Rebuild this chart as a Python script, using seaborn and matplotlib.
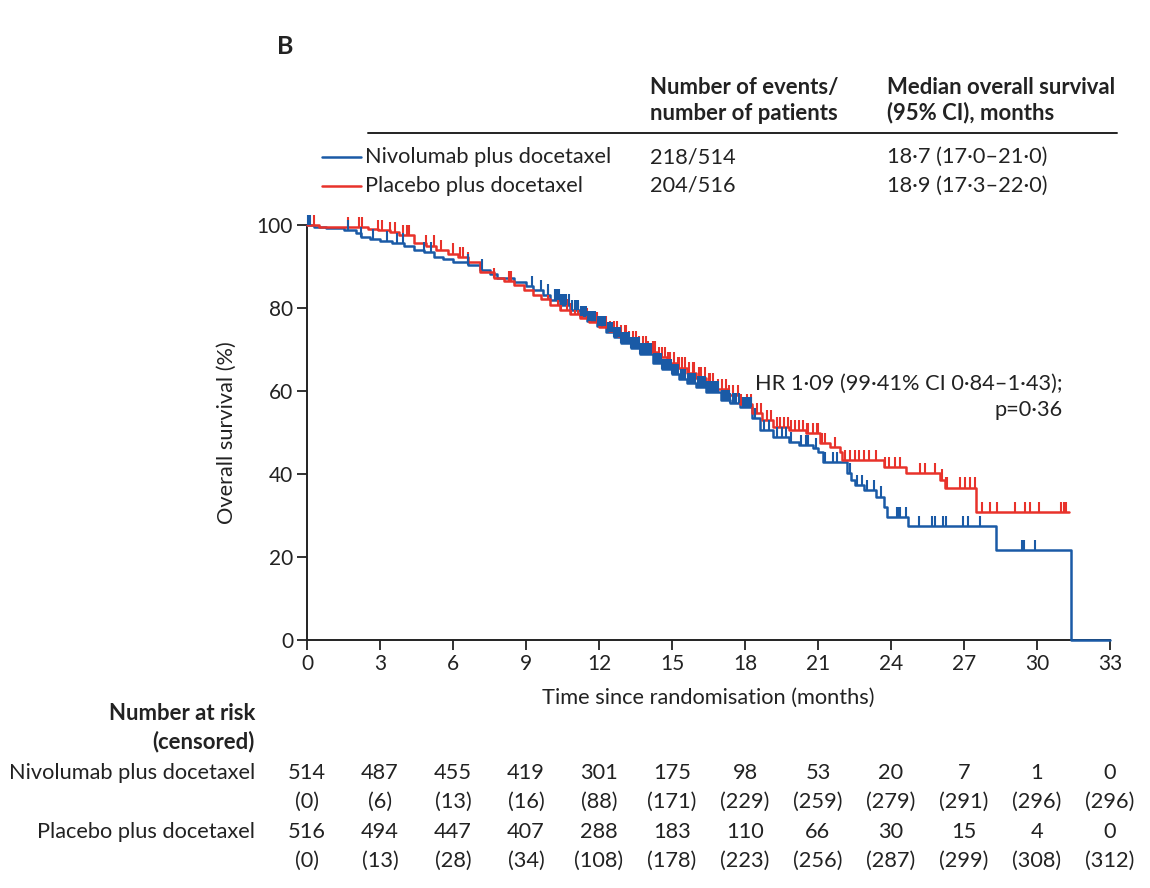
import numpy as np
import pandas as pd
import matplotlib
matplotlib.use("Agg")
import matplotlib.pyplot as plt
from matplotlib.lines import Line2D
import seaborn as sns

# ---------------- data ----------------
arm_names = ["Nivolumab plus docetaxel", "Placebo plus docetaxel"]
events_patients = ["218/514", "204/516"]
median_os = ["18·7 (17·0–21·0)", "18·9 (17·3–22·0)"]

nivo_times = [0, 0.3, 0.8, 1.5, 2.0, 2.2, 2.6, 3.0, 3.5, 4.0, 4.4, 4.8, 5.2, 5.6, 6.0, 6.6,
              7.1, 7.5, 7.8, 8.5, 9.0, 9.3, 9.7, 10.0, 10.4, 10.8, 11.2, 11.5, 11.9, 12.3,
              12.6, 12.9, 13.3, 13.7, 14.2, 14.6, 15.0, 15.3, 15.6, 16.0, 16.4, 17.0, 17.4,
              17.8, 18.3, 18.6, 19.15, 19.8, 20.2, 20.8, 21.0, 21.2, 22.2, 22.35, 22.5, 22.9,
              23.4, 23.7, 23.85, 24.7, 28.3, 31.4, 33.0]
nivo_surv = [100, 99.6, 99.2, 98.8, 98.0, 97.1, 96.6, 96.1, 95.6, 95.0, 94.0, 93.4, 92.3, 91.8,
             91.2, 90.4, 89.2, 88.2, 87.2, 86.3, 85.3, 84.3, 83.2, 82.0, 80.8, 79.5, 78.0, 76.8,
             75.6, 74.2, 73.0, 71.6, 70.4, 69.0, 66.7, 65.2, 64.0, 62.8, 61.9, 61.0, 59.8, 57.8,
             57.0, 56.1, 53.5, 50.5, 48.9, 47.7, 47.0, 46.2, 45.3, 42.9, 40.2, 38.6, 37.3, 36.1,
             34.5, 32.0, 29.6, 27.5, 21.7, 0, 0]
nivo_censor = [0.05, 0.12, 1.7, 2.2, 2.7, 3.3, 3.7, 3.95, 4.8, 5.1, 6.6, 7.2, 9.25, 9.6, 9.9,
               10.2, 10.25, 10.3, 10.35, 10.45, 10.5, 10.55, 10.6, 10.65, 10.75, 10.9, 11.0,
               11.05, 11.1, 11.15, 11.25, 11.3, 11.35, 11.4, 11.45, 11.55, 11.65, 11.7, 11.75,
               11.8, 11.85, 11.95, 12.0, 12.05, 12.1, 12.15, 12.2, 12.25, 12.35, 12.4, 12.45,
               12.5, 12.55, 12.6, 12.65, 12.7, 12.75, 12.8, 12.85, 12.9, 12.95, 13.0, 13.05,
               13.1, 13.15, 13.2, 13.25, 13.3, 13.35, 13.4, 13.45, 13.5, 13.55, 13.6, 13.65,
               13.7, 13.75, 13.8, 13.85, 13.9, 13.95, 14.0, 14.05, 14.1, 14.15, 14.25, 14.3,
               14.35, 14.4, 14.45, 14.5, 14.55, 14.6, 14.65, 14.7, 14.75, 14.8, 14.85, 14.9,
               14.95, 15.0, 15.05, 15.1, 15.15, 15.2, 15.25, 15.35, 15.4, 15.45, 15.5, 15.55,
               15.65, 15.7, 15.75, 15.8, 15.85, 15.9, 15.95, 16.05, 16.1, 16.15, 16.2, 16.25,
               16.3, 16.35, 16.45, 16.5, 16.55, 16.6, 16.65, 16.7, 16.75, 16.85, 16.9, 17.05,
               17.1, 17.15, 17.2, 17.25, 17.35, 17.4, 17.5, 17.55, 17.6, 17.65, 17.75, 17.9,
               18.0, 18.05, 18.1, 18.15, 18.25, 18.4, 18.8, 19.0, 19.3, 19.5, 19.7, 19.9, 20.3,
               20.5, 20.6, 20.9, 21.3, 21.6, 21.8, 22.3, 22.6, 22.8, 23.0, 23.3, 23.6, 24.25,
               24.3, 24.35, 24.6, 25.15, 25.7, 25.8, 26.15, 26.25, 26.95, 27.15, 27.65, 29.4,
               29.45, 29.9]

plac_times = [0, 0.5, 1.5, 2.5, 2.9, 3.4, 3.8, 4.4, 4.9, 5.3, 5.8, 6.2, 6.6, 7.1, 7.7, 8.1, 8.5,
              8.9, 9.3, 9.6, 10.0, 10.4, 10.8, 11.2, 11.6, 12.0, 12.4, 12.8, 13.2, 13.6, 14.0,
              14.4, 14.8, 15.2, 15.6, 16.0, 16.4, 16.8, 17.3, 17.8, 18.3, 18.7, 19.15, 19.8,
              20.5, 21.1, 21.5, 21.9, 22.0, 23.7, 24.6, 26.0, 26.2, 27.5, 31.3]
plac_surv = [100, 99.6, 99.4, 99.0, 98.8, 98.2, 97.6, 95.7, 95.0, 94.0, 93.1, 92.3, 91.0, 88.7,
             87.2, 86.4, 85.5, 84.4, 83.1, 82.1, 80.7, 79.6, 78.6, 77.6, 76.6, 75.5, 74.4, 73.3,
             72.0, 70.8, 69.5, 68.2, 66.8, 65.6, 64.4, 63.2, 61.8, 60.5, 59.0, 56.8, 54.7, 53.0,
             51.3, 50.5, 49.9, 47.5, 46.4, 45.3, 43.4, 41.7, 40.2, 38.6, 36.7, 30.8, 30.8]
plac_censor = [0.3, 1.7, 2.15, 2.25, 2.9, 3.1, 3.4, 3.6, 3.95, 4.1, 4.2, 4.9, 5.2, 5.5, 6.0,
               6.3, 6.4, 6.6, 7.7, 8.3, 8.4, 9.9, 10.3, 10.45, 10.7, 10.85, 11.0, 11.15, 11.3,
               11.5, 11.65, 11.9, 12.05, 12.2, 12.3, 12.45, 12.6, 12.75, 12.9, 13.05, 13.1,
               13.25, 13.4, 13.5, 13.65, 13.8, 13.95, 14.0, 14.2, 14.3, 14.45, 14.6, 14.7,
               14.85, 14.9, 15.1, 15.25, 15.3, 15.4, 15.55, 15.7, 15.85, 15.9, 16.1, 16.2,
               16.35, 16.5, 16.55, 16.7, 16.9, 17.05, 17.2, 17.35, 17.5, 17.7, 17.85, 18.1,
               18.25, 18.5, 18.65, 18.9, 19.05, 19.3, 19.45, 19.6, 19.75, 19.9, 20.05, 20.2,
               20.4, 20.55, 20.6, 20.8, 20.95, 21.0, 21.15, 21.3, 21.7, 22.1, 22.3, 22.5, 22.7,
               22.9, 23.1, 23.4, 23.75, 23.9, 24.15, 24.35, 25.2, 25.4, 25.8, 26.1, 26.25,
               26.3, 26.85, 27.05, 27.25, 27.45, 27.75, 28.05, 28.35, 29.1, 29.5, 29.7, 30.1,
               31.0, 31.1, 31.2]

risk_times = [0, 3, 6, 9, 12, 15, 18, 21, 24, 27, 30, 33]
nivo_at_risk = [514, 487, 455, 419, 301, 175, 98, 53, 20, 7, 1, 0]
nivo_censored = [0, 6, 13, 16, 88, 171, 229, 259, 279, 291, 296, 296]
plac_at_risk = [516, 494, 447, 407, 288, 183, 110, 66, 30, 15, 4, 0]
plac_censored = [0, 13, 28, 34, 108, 178, 223, 256, 287, 299, 308, 312]

BLUE = "#1a5aa6"
RED = "#e8322b"
INK = "#222222"
FS = 15.7     # regular text
FSB = 15.9    # bold text

# ---------------- style ----------------
sns.set_theme(style="ticks")
plt.rcParams["font.family"] = ["Lato", "DejaVu Sans"]
plt.rcParams["axes.edgecolor"] = INK
plt.rcParams["xtick.color"] = INK
plt.rcParams["ytick.color"] = INK

W, H = 1150, 888
fig = plt.figure(figsize=(W / 100, H / 100), dpi=100)


def fx(x):
    return x / W


def fy(y):
    return 1 - y / H


ax = fig.add_axes([fx(307), fy(640), fx(1110) - fx(307), fy(225) - fy(640)])

df = pd.concat([
    pd.DataFrame({"t": nivo_times, "s": nivo_surv, "arm": arm_names[0]}),
    pd.DataFrame({"t": plac_times, "s": plac_surv, "arm": arm_names[1]}),
])
sns.lineplot(data=df, x="t", y="s", hue="arm", palette=[BLUE, RED],
             drawstyle="steps-post", estimator=None, sort=False, legend=False,
             linewidth=1.8, ax=ax, clip_on=False, zorder=3)


def level_at(times, surv, tc):
    idx = np.searchsorted(np.asarray(times), np.asarray(tc), side="right") - 1
    return np.asarray(surv)[idx]


for times, surv, cens, col in [(plac_times, plac_surv, plac_censor, RED),
                               (nivo_times, nivo_surv, nivo_censor, BLUE)]:
    lv = level_at(times, surv, cens)
    ax.vlines(cens, lv, lv + 2.5, color=col, linewidth=1.5, clip_on=False, zorder=4)

ax.set_xlim(0, 33)
ax.set_ylim(0, 100)
ax.set_xticks(risk_times)
ax.set_yticks([0, 20, 40, 60, 80, 100])
ax.tick_params(axis="both", direction="out", length=7, width=1.3, labelsize=15, pad=3)
for sp in ["top", "right"]:
    ax.spines[sp].set_visible(False)
for sp in ["left", "bottom"]:
    ax.spines[sp].set_linewidth(1.4)
ax.set_xlabel("Time since randomisation (months)", fontsize=FS, labelpad=10, color=INK)
ax.set_ylabel("Overall survival (%)", fontsize=FS, labelpad=14, color=INK)

ax.text(31.07, 61.7, "HR 1·09 (99·41% CI 0·84–1·43);", ha="right", va="center",
        fontsize=FS, color=INK)
ax.text(31.07, 55.4, "p=0·36", ha="right", va="center", fontsize=FS, color=INK)

# ---------------- header ----------------
fig.text(fx(277), fy(47), "B", fontsize=18, fontweight="bold", ha="left", va="center", color=INK)
fig.text(fx(650), fy(87), "Number of events/", fontsize=FSB, fontweight="bold", va="center", color=INK)
fig.text(fx(650), fy(113), "number of patients", fontsize=FSB, fontweight="bold", va="center", color=INK)
fig.text(fx(887), fy(87), "Median overall survival", fontsize=FSB, fontweight="bold", va="center", color=INK)
fig.text(fx(887), fy(113), "(95% CI), months", fontsize=FSB, fontweight="bold", va="center", color=INK)
fig.add_artist(Line2D([fx(368), fx(1117)], [fy(133), fy(133)], color=INK, linewidth=1.4))

for i, (yy, col) in enumerate([(157, BLUE), (186, RED)]):
    fig.add_artist(Line2D([fx(322), fx(361)], [fy(yy), fy(yy)], color=col, linewidth=1.8))
    fig.text(fx(365), fy(yy), arm_names[i], fontsize=FS, va="center", color=INK)
    fig.text(fx(650), fy(yy), events_patients[i], fontsize=FS, va="center", color=INK)
    fig.text(fx(887), fy(yy), median_os[i], fontsize=FS, va="center", color=INK)

# ---------------- number at risk ----------------
fig.text(fx(255), fy(713), "Number at risk", fontsize=FSB, fontweight="bold", ha="right", va="center", color=INK)
fig.text(fx(255), fy(742), "(censored)", fontsize=FSB, fontweight="bold", ha="right", va="center", color=INK)
rows = [(773, 802, arm_names[0], nivo_at_risk, nivo_censored),
        (832, 861, arm_names[1], plac_at_risk, plac_censored)]
for y1, y2, name, nr, nc in rows:
    fig.text(fx(255), fy(y1), name, fontsize=FS, ha="right", va="center", color=INK)
    for t, a, c in zip(risk_times, nr, nc):
        xd = ax.transData.transform((t, 0))[0]
        fig.text(xd / W, fy(y1), str(a), fontsize=FS, ha="center", va="center", color=INK)
        fig.text(xd / W, fy(y2), f"({c})", fontsize=FS, ha="center", va="center", color=INK)

fig.savefig("out.png", dpi=100)
